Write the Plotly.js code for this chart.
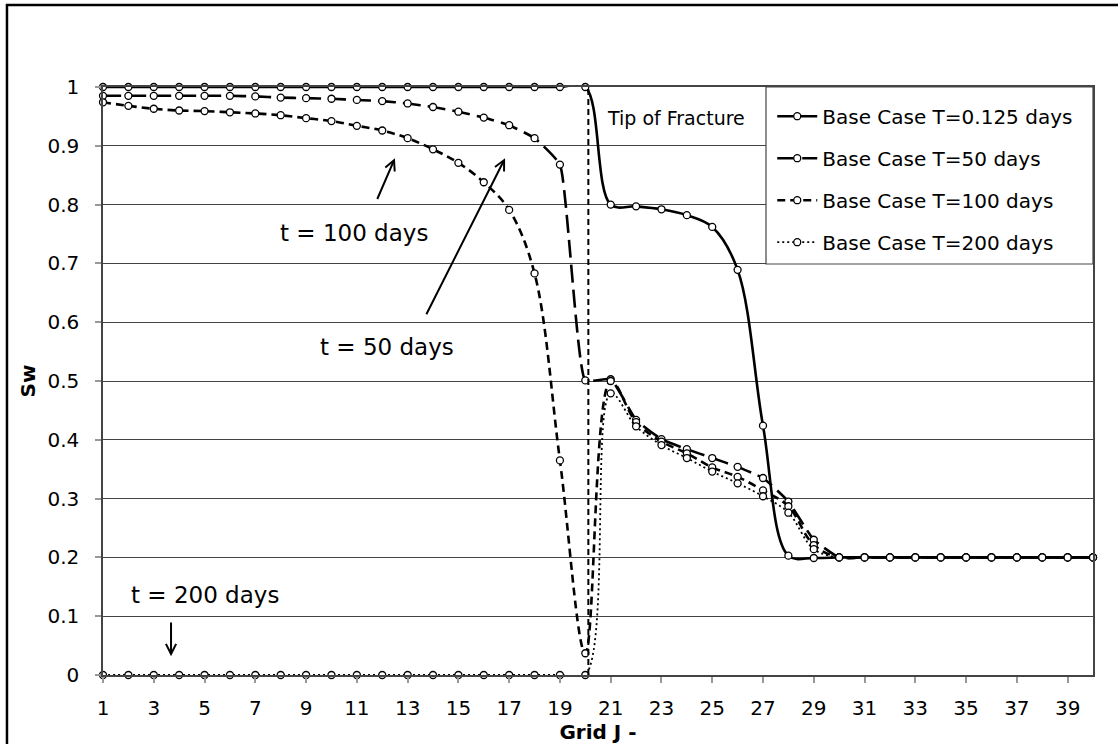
<!DOCTYPE html>
<html>
<head>
<meta charset="utf-8">
<script src="https://cdn.plot.ly/plotly-3.0.1.min.js"></script>
<style>html,body{margin:0;padding:0;background:#fff;}#chart{width:1118px;height:744px;}</style>
</head>
<body>
<div id="chart"></div>
<script>
// ---- data ----
const gridJ = Array.from({length: 40}, (_, i) => i + 1);
const seriesNames = ["Base Case T=0.125 days", "Base Case T=50 days", "Base Case T=100 days", "Base Case T=200 days"];
const swT0125 = [1,1,1,1,1,1,1,1,1,1,1,1,1,1,1,1,1,1,1,1,
  0.800,0.797,0.792,0.782,0.762,0.689,0.424,0.203,0.199,
  0.2,0.2,0.2,0.2,0.2,0.2,0.2,0.2,0.2,0.2,0.2];
const swT50 = [0.985,0.985,0.985,0.985,0.985,0.985,0.984,0.982,0.981,0.980,
  0.978,0.976,0.972,0.966,0.958,0.948,0.935,0.913,0.868,0.501,
  0.503,0.434,0.401,0.384,0.369,0.354,0.335,0.295,0.230,
  0.2,0.2,0.2,0.2,0.2,0.2,0.2,0.2,0.2,0.2,0.2];
const swT100 = [0.974,0.968,0.963,0.960,0.959,0.957,0.955,0.952,0.947,0.942,
  0.934,0.926,0.913,0.894,0.871,0.838,0.791,0.683,0.365,0.037,
  0.500,0.430,0.397,0.377,0.353,0.337,0.314,0.287,0.221,
  0.2,0.2,0.2,0.2,0.2,0.2,0.2,0.2,0.2,0.2,0.2];
const swT200 = [0,0,0,0,0,0,0,0,0,0,0,0,0,0,0,0,0,0,0,0,
  0.479,0.423,0.391,0.369,0.346,0.326,0.304,0.276,0.214,
  0.2,0.2,0.2,0.2,0.2,0.2,0.2,0.2,0.2,0.2,0.2];
const xTicks = [1,3,5,7,9,11,13,15,17,19,21,23,25,27,29,31,33,35,37,39];
const fractureTipJ = 20.12;
// annotation labels: [text, x, y]
const labelTexts = [
  ["t = 0.125 days", 16.01, 1.097],
  ["t = 100 days", 10.89, 0.752],
  ["t = 50 days", 12.17, 0.558],
  ["t = 200 days", 5.02, 0.136]
];
// arrows: [headX, headY, tailX, tailY]
const arrows = [
  [15.50, 1.022, 15.50, 1.075],
  [12.50, 0.879, 11.78, 0.807],
  [16.84, 0.879, 13.71, 0.611],
  [3.68, 0.032, 3.68, 0.092]
];

const FONT = "DejaVu Sans";
const allSeries = [swT0125, swT50, swT100, swT200];
const dashes = ["solid", "18px,7px", "8px,5px", "2px,3px"];
const widths = [2.6, 2.6, 2.6, 1.8];
const smooth = [1, 0.4, 1, 1];

const traces = allSeries.map((ys, i) => ({
  x: gridJ, y: ys, name: seriesNames[i], type: "scatter", mode: "lines+markers",
  legendgroup: "g" + i,
  line: {color: "#000", width: widths[i], dash: dashes[i], shape: "spline", smoothing: smooth[i]},
  marker: {symbol: "circle", size: 7, color: "#fff", line: {color: "#000", width: 1.3}},
  cliponaxis: false
}));

const annotations = [];
labelTexts.forEach(([t, x, y]) => annotations.push({
  text: t, x: x, y: y, xref: "x", yref: "y", showarrow: false,
  font: {family: FONT, size: 23, color: "#000"}
}));
arrows.forEach(([hx, hy, tx, ty]) => annotations.push({
  text: "", x: hx, y: hy, ax: tx, ay: ty, xref: "x", yref: "y", axref: "x", ayref: "y",
  showarrow: true, arrowhead: 5, arrowsize: 1, arrowwidth: 2, arrowcolor: "#000", standoff: 0
}));
annotations.push({
  text: "Tip of Fracture", x: 20.78, y: 0.947, xref: "x", yref: "y", xanchor: "left",
  showarrow: false, font: {family: FONT, size: 19, color: "#000"}
});

const shapes = [
  {type: "rect", xref: "paper", yref: "paper", x0: -0.097, x1: 1.05, y0: -0.2, y1: 1.1395,
   line: {color: "#000", width: 2.5}, fillcolor: "rgba(0,0,0,0)", layer: "above"},
  {type: "line", xref: "x", yref: "y", x0: fractureTipJ, x1: fractureTipJ, y0: 0, y1: 1,
   line: {color: "#000", width: 2, dash: "6px,4px"}},
  {type: "rect", xref: "paper", yref: "paper", x0: 0.6697, x1: 1.0, y0: 0.699, y1: 1.0,
   line: {color: "#444", width: 1.2}, fillcolor: "#fff", layer: "above"}
];

const layout = {
  width: 1118, height: 744,
  margin: {l: 103, r: 25, t: 87, b: 69},
  paper_bgcolor: "#fff", plot_bgcolor: "#fff",
  font: {family: FONT, color: "#000", size: 20},
  showlegend: true,
  legend: {x: 0.676, y: 0.9835, xanchor: "left", yanchor: "top", bgcolor: "rgba(0,0,0,0)",
    borderwidth: 0, font: {family: FONT, size: 20, color: "#000"},
    traceorder: "grouped", tracegroupgap: 13, itemwidth: 40},
  xaxis: {range: [1, 40], tickvals: xTicks, ticktext: xTicks.map(String),
    ticks: "outside", ticklen: 6, tickcolor: "#999", tickwidth: 1.5,
    showgrid: false, zeroline: false, showline: true, linecolor: "#444", linewidth: 1.5, mirror: true,
    tickfont: {family: FONT, size: 20}, ticklabelstandoff: 8,
    title: {text: "<b>Grid J -</b>", font: {family: FONT, size: 20}, standoff: 2}, automargin: false},
  yaxis: {range: [0, 1], dtick: 0.1, tick0: 0,
    ticks: "outside", ticklen: 6, tickcolor: "#999", tickwidth: 1.5,
    showgrid: true, gridcolor: "#444", gridwidth: 1, zeroline: false,
    showline: true, linecolor: "#444", linewidth: 1.5, mirror: true,
    tickfont: {family: FONT, size: 20}, ticklabelstandoff: 12,
    title: {text: "<b>Sw</b>", font: {family: FONT, size: 20}, standoff: 6}, automargin: false},
  annotations: annotations,
  shapes: shapes
};

Plotly.newPlot("chart", traces, layout, {displayModeBar: false, responsive: false});
</script>
</body>
</html>
